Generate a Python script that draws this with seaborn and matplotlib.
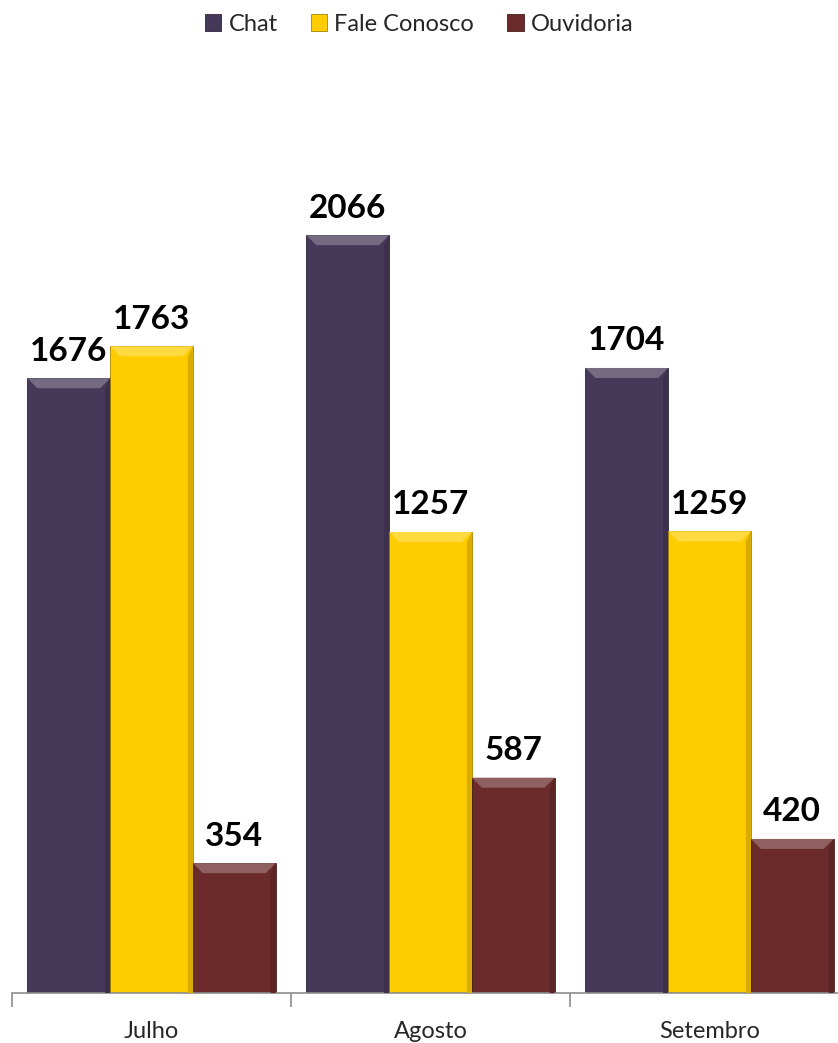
import pandas as pd
import numpy as np
import matplotlib
matplotlib.use("Agg")
import matplotlib.pyplot as plt
import seaborn as sns
from matplotlib.patches import Polygon

# Data
meses = ["Julho", "Agosto", "Setembro"]
canais = ["Chat", "Fale Conosco", "Ouvidoria"]
chat = [1676, 2066, 1704]
fale_conosco = [1763, 1257, 1259]
ouvidoria = [354, 587, 420]
cores = ["#463858", "#FFCC00", "#6B2B2B"]

df = pd.DataFrame({
    "mes": meses * 3,
    "canal": ["Chat"] * 3 + ["Fale Conosco"] * 3 + ["Ouvidoria"] * 3,
    "valor": chat + fale_conosco + ouvidoria,
})

sns.set_style("white")
plt.rcParams['font.family'] = ['Lato', 'DejaVu Sans']

fig = plt.figure(figsize=(8.38, 10.43), dpi=100)
ax = fig.add_axes([12 / 838, 1 - 993 / 1043, 837 / 838, 917 / 1043])

sns.barplot(data=df, x="mes", y="valor", hue="canal", order=meses,
            hue_order=canais, palette=cores, saturation=1, width=0.89,
            ax=ax, legend=False, errorbar=None)

ax.set_xlim(-0.5, 2.5)
ax.set_ylim(0, 2500)

# bevel look on top of each bar
def lighten(c, f):
    rgb = np.array(matplotlib.colors.to_rgb(c))
    return tuple(rgb + (1 - rgb) * f)

def darken(c, f):
    rgb = np.array(matplotlib.colors.to_rgb(c))
    return tuple(rgb * (1 - f))

fig.canvas.draw()
inv = ax.transData.inverted()
p0 = inv.transform((0, 0))
p1 = inv.transform((10, 10))
dx, dy = p1 - p0
for cont, cor in zip(ax.containers, cores):
    for bar in cont:
        x, w, h = bar.get_x(), bar.get_width(), bar.get_height()
        bar.set_edgecolor(darken(cor, 0.35))
        bar.set_linewidth(0.6)
        top = Polygon([(x, h), (x + w, h), (x + w - dx, h - dy), (x + dx, h - dy)],
                      closed=True, facecolor=lighten(cor, 0.25), edgecolor="none", zorder=3)
        ax.add_patch(top)
        side = Polygon([(x + w - dx * 0.5, h - dy), (x + w, h), (x + w, 0), (x + w - dx * 0.5, 0)],
                       closed=True, facecolor=darken(cor, 0.15), edgecolor="none", zorder=3)
        ax.add_patch(side)
    ax.bar_label(cont, fmt="%d", padding=9, fontsize=24, fontweight="bold", color="black")

# axis styling
for s in ["top", "right", "left"]:
    ax.spines[s].set_visible(False)
ax.spines["bottom"].set_color("#8c8c8c")
ax.spines["bottom"].set_linewidth(1.2)
ax.set_yticks([])
ax.set_xticks(range(len(meses)))
ax.set_xticklabels(meses, fontsize=17)
ax.set_xticks([-0.5, 0.5, 1.5, 2.5], minor=True)
ax.tick_params(axis="x", which="major", bottom=True, length=0, pad=20)
ax.tick_params(axis="x", which="minor", bottom=True, length=10, width=1.2,
               color="#8c8c8c", direction="out")
ax.set_xlabel("")
ax.set_ylabel("")

# legend
handles = [plt.Rectangle((0, 0), 1, 1, facecolor=c, edgecolor=darken(c, 0.35), linewidth=0.6)
           for c in cores]
fig.legend(handles, canais, loc="upper center", bbox_to_anchor=(0.5, 1.007), ncol=3,
           frameon=False, fontsize=17, handlelength=0.7, handleheight=0.7,
           handletextpad=0.3, columnspacing=1.4)

fig.savefig("out.png", dpi=100)
